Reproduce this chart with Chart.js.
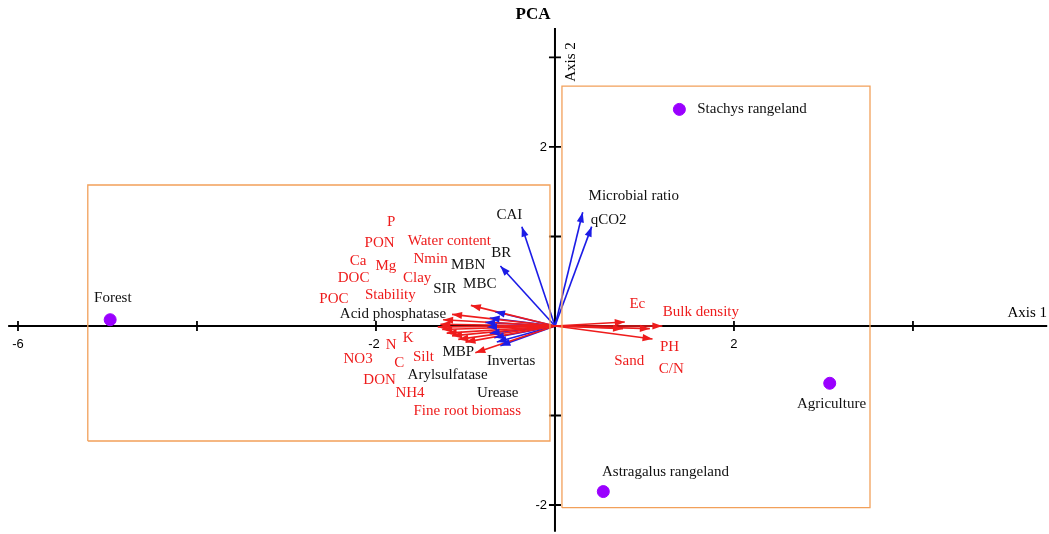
<!DOCTYPE html>
<html><head><meta charset="utf-8">
<script src="https://cdn.jsdelivr.net/npm/chart.js@4"></script>
<style>html,body{margin:0;padding:0;background:#fff;overflow:hidden}</style>
</head><body>
<canvas id="c" width="1049" height="534"></canvas>
<script>
// ---- Data ----
const siteNames = ["Forest", "Stachys rangeland", "Agriculture", "Astragalus rangeland"];
const siteX = [-4.97, 1.39, 3.07, 0.54];
const siteY = [0.07, 2.42, -0.64, -1.85];

// red (soil property) vectors, tip coordinates
const redX = [-0.94, -1.15, -1.25, -1.28, -1.31, -1.26, -1.21, -1.15, -1.08, -1.00, -0.89, 0.78, 0.76, 1.06, 1.20, 1.09];
const redY = [0.23, 0.13, 0.07, 0.02, -0.01, -0.04, -0.08, -0.11, -0.15, -0.18, -0.30, 0.045, -0.03, -0.03, 0.0, -0.145];

// blue (biological) vectors, tip coordinates
const blueX = [-0.37, -0.61, 0.31, 0.41, -0.67, -0.73, -0.78, -0.76, -0.73, -0.68, -0.65, -0.61];
const blueY = [1.11, 0.67, 1.27, 1.11, 0.16, 0.09, 0.04, -0.01, -0.08, -0.13, -0.18, -0.22];

// variable labels [text, x, y]
const redLabels = [
  ["P", -1.83, 1.16], ["PON", -1.96, 0.93], ["Water content", -1.18, 0.95],
  ["Ca", -2.20, 0.73], ["Mg", -1.89, 0.67], ["Nmin", -1.39, 0.75],
  ["DOC", -2.25, 0.53], ["Clay", -1.54, 0.54], ["Stability", -1.84, 0.35],
  ["POC", -2.47, 0.30], ["Ec", 0.92, 0.25], ["Bulk density", 1.63, 0.15],
  ["PH", 1.28, -0.23], ["Sand", 0.83, -0.39], ["C/N", 1.30, -0.48],
  ["N", -1.83, -0.21], ["K", -1.64, -0.13], ["NO3", -2.20, -0.37],
  ["C", -1.74, -0.41], ["Silt", -1.47, -0.35], ["DON", -1.96, -0.60],
  ["NH4", -1.62, -0.75], ["Fine root biomass", -0.98, -0.95]
];
const blackLabels = [
  ["CAI", -0.51, 1.24], ["BR", -0.60, 0.82], ["MBN", -0.97, 0.68],
  ["MBC", -0.84, 0.47], ["SIR", -1.23, 0.41], ["Acid phosphatase", -1.81, 0.13],
  ["MBP", -1.08, -0.29], ["Invertas", -0.49, -0.39], ["Arylsulfatase", -1.20, -0.55],
  ["Urease", -0.64, -0.75], ["Microbial ratio", 0.88, 1.45], ["qCO2", 0.60, 1.18]
];
const siteLabelPos = [[-4.94, 0.31, "center"], [1.59, 2.42, "left"], [3.09, -0.87, "center"], [0.525, -1.63, "left"]];

// group boxes [xmin, xmax, ymin, ymax]
const boxes = [[-5.22, -0.056, -1.285, 1.575], [0.078, 3.52, -2.03, 2.68]];

// axis ticks
const xTicks = [-6, -4, -2, 2, 4];
const xTickLabels = {"-6": "-6", "-2": "-2", "2": "2"};
const yTicks = [-2, -1, 1, 2, 3];
const yTickLabels = {"2": "2", "-2": "-2"};

// ---- Styles ----
const RED = "#ee1c1c", BLUE = "#1c1ce6", PURPLE = "#9a00ff", ORANGE = "#f2a05a";
const SERIF = "'Liberation Serif', 'Times New Roman', serif";
const SANS = "'Liberation Sans', Arial, sans-serif";

const datasets = [];
boxes.forEach(b => {
  datasets.push({
    data: [{x:b[0],y:b[2]},{x:b[1],y:b[2]},{x:b[1],y:b[3]},{x:b[0],y:b[3]},{x:b[0],y:b[2]}],
    showLine: true, borderColor: ORANGE, borderWidth: 1.3, pointRadius: 0, fill: false, tension: 0,
    kind: "box"
  });
});
redX.forEach((x, i) => datasets.push({
  data: [{x:0,y:0},{x:x,y:redY[i]}], showLine: true, borderColor: RED, backgroundColor: RED,
  borderWidth: 1.6, pointRadius: 0, kind: "arrow"
}));
blueX.forEach((x, i) => datasets.push({
  data: [{x:0,y:0},{x:x,y:blueY[i]}], showLine: true, borderColor: BLUE, backgroundColor: BLUE,
  borderWidth: 1.6, pointRadius: 0, kind: "arrow"
}));
datasets.push({
  data: siteX.map((x, i) => ({x:x, y:siteY[i]})), showLine: false,
  pointRadius: 6, pointBackgroundColor: PURPLE, pointBorderColor: PURPLE, kind: "site"
});

const pcaPlugin = {
  id: "pca",
  beforeDatasetsDraw(chart) {
    const ctx = chart.ctx, xs = chart.scales.x, ys = chart.scales.y;
    const x0 = xs.getPixelForValue(0), y0 = ys.getPixelForValue(0);
    ctx.save();
    ctx.strokeStyle = "#000"; ctx.lineWidth = 2;
    ctx.beginPath();
    ctx.moveTo(xs.getPixelForValue(-6.11), y0); ctx.lineTo(xs.getPixelForValue(5.5), y0);
    ctx.moveTo(x0, ys.getPixelForValue(3.33)); ctx.lineTo(x0, ys.getPixelForValue(-2.3));
    ctx.stroke();
    ctx.lineWidth = 1.8;
    ctx.beginPath();
    xTicks.forEach(t => { const p = xs.getPixelForValue(t); ctx.moveTo(p, y0-5); ctx.lineTo(p, y0+5); });
    yTicks.forEach(t => { const p = ys.getPixelForValue(t); ctx.moveTo(x0-6, p); ctx.lineTo(x0+6, p); });
    ctx.stroke();
    ctx.fillStyle = "#000"; ctx.font = "13px " + SANS;
    ctx.textAlign = "center"; ctx.textBaseline = "middle";
    xTicks.forEach(t => { const l = xTickLabels[String(t)]; if (l) ctx.fillText(l, xs.getPixelForValue(t) - (t === -2 ? 2 : 0), y0 + 18); });
    ctx.textAlign = "right";
    yTicks.forEach(t => { const l = yTickLabels[String(t)]; if (l) ctx.fillText(l, x0 - 8, ys.getPixelForValue(t)); });
    // axis names
    ctx.font = "15px " + SERIF; ctx.textAlign = "right";
    ctx.fillText("Axis 1", chart.width - 2, y0 - 13);
    ctx.save();
    ctx.translate(x0 + 16, ys.getPixelForValue(2.95));
    ctx.rotate(-Math.PI/2);
    ctx.textAlign = "center";
    ctx.fillText("Axis 2", 0, 0);
    ctx.restore();
    ctx.font = "bold 17px " + SERIF; ctx.textAlign = "center";
    ctx.fillText("PCA", x0 - 22, 15);
    ctx.restore();
  },
  afterDatasetsDraw(chart) {
    const ctx = chart.ctx, xs = chart.scales.x, ys = chart.scales.y;
    ctx.save();
    chart.data.datasets.forEach((ds, i) => {
      if (ds.kind !== "arrow") return;
      const pts = chart.getDatasetMeta(i).data;
      const a = pts[0], b = pts[1];
      const ang = Math.atan2(b.y - a.y, b.x - a.x);
      const L = 10, W = 3.6;
      ctx.fillStyle = ds.borderColor;
      ctx.beginPath();
      ctx.moveTo(b.x, b.y);
      ctx.lineTo(b.x - L*Math.cos(ang) + W*Math.sin(ang), b.y - L*Math.sin(ang) - W*Math.cos(ang));
      ctx.lineTo(b.x - L*Math.cos(ang) - W*Math.sin(ang), b.y - L*Math.sin(ang) + W*Math.cos(ang));
      ctx.closePath(); ctx.fill();
    });
    ctx.font = "15px " + SERIF; ctx.textBaseline = "middle"; ctx.textAlign = "center";
    ctx.fillStyle = RED;
    redLabels.forEach(l => ctx.fillText(l[0], xs.getPixelForValue(l[1]), ys.getPixelForValue(l[2])));
    ctx.fillStyle = "#111";
    blackLabels.forEach(l => ctx.fillText(l[0], xs.getPixelForValue(l[1]), ys.getPixelForValue(l[2])));
    siteNames.forEach((n, i) => {
      const p = siteLabelPos[i];
      ctx.textAlign = p[2];
      ctx.fillText(n, xs.getPixelForValue(p[0]), ys.getPixelForValue(p[1]));
    });
    ctx.restore();
  }
};

new Chart(document.getElementById("c"), {
  type: "scatter",
  data: { datasets: datasets },
  options: {
    responsive: false, animation: false, devicePixelRatio: 1,
    layout: { padding: 0, autoPadding: false },
    plugins: { legend: { display: false }, tooltip: { enabled: false }, title: { display: false } },
    scales: {
      x: { type: "linear", min: -6.201, max: 5.52, display: false },
      y: { type: "linear", min: -2.324, max: 3.642, display: false }
    }
  },
  plugins: [pcaPlugin]
});
</script>
</body></html>
